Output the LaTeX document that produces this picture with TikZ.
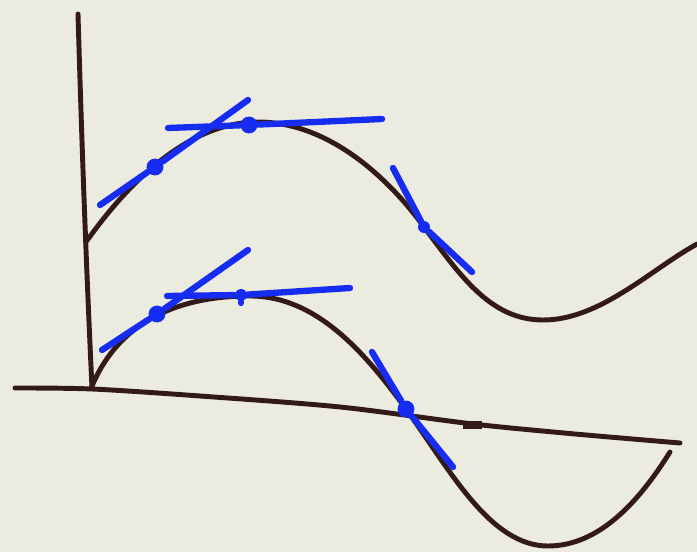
\documentclass[tikz,border=0pt]{standalone}
\usetikzlibrary{calc}

\definecolor{paper}{RGB}{236,235,224}
\definecolor{ink}{RGB}{52,26,22}
\definecolor{pen}{RGB}{22,44,240}

\begin{document}
\begin{tikzpicture}[x=0.01cm,y=-0.01cm,line cap=round,line join=round,
  curve/.style={draw=ink,line width=1.4pt},
  tangent/.style={draw=pen,line width=1.8pt},
  touch/.style={circle,fill=pen,inner sep=0pt,minimum size=#1},
  touch/.default=4.8pt]
\fill[paper] (0,0) rectangle (697,552);
\useasboundingbox (0,0) rectangle (697,552);

% axes
\coordinate (ytop) at (78,14);
\coordinate (orig) at (92,388);
\coordinate (xleft) at (15,388);
\coordinate (xright) at (680,443);
\draw[curve] (ytop) .. controls (82,150) and (86,260) .. (orig);
\draw[curve] plot[smooth] coordinates {(xleft) (92,389) (200,396) (340,407) (473,424) (575,434) (xright)};
\fill[ink] (463,421) rectangle (482,429);

% upper curve
\coordinate (ustart) at (86,242);
\coordinate (upeak) at (258,122);
\coordinate (umin) at (543,320);
\coordinate (uend) at (697,244);
\draw[curve] (ustart) .. controls (130,180) and (190,122) .. (upeak)
  .. controls (330,122) and (390,180) .. (424,227)
  .. controls (460,275) and (490,320) .. (umin)
  .. controls (600,320) and (650,270) .. (uend);

% lower curve
\coordinate (lstart) at (92,386);
\coordinate (lpeak) at (250,296);
\coordinate (lmin) at (548,546);
\coordinate (lend) at (670,452);
\draw[curve] (lstart) .. controls (120,320) and (180,296) .. (lpeak)
  .. controls (320,296) and (370,360) .. (406,409)
  .. controls (450,470) and (490,546) .. (lmin)
  .. controls (600,546) and (640,500) .. (lend);

% tangents, upper
\node[touch] (u1) at (155,167) {};
\node[touch] (u2) at (249,125) {};
\node[touch=3.4pt] (u3) at (424,227) {};
\coordinate (u1a) at (100,205);
\coordinate (u1b) at (248,100);
\coordinate (u2a) at (168,128);
\coordinate (u2b) at (382,119);
\coordinate (u3a) at (393,168);
\coordinate (u3b) at (472,272);
\draw[tangent] (u1a) -- (u1) -- (u1b);
\draw[tangent] (u2a) -- (u2) -- (u2b);
\draw[tangent] (u3a) -- (u3) -- (u3b);

% tangents, lower
\node[touch] (l1) at (157,314) {};
\node[touch=3.4pt] (l2) at (241,295) {};
\node[touch] (l3) at (406,409) {};
\coordinate (l1a) at (102,350);
\coordinate (l1b) at (248,250);
\coordinate (l2a) at (167,296);
\coordinate (l2b) at (350,288);
\coordinate (l3a) at (372,352);
\coordinate (l3b) at (453,467);
\draw[tangent] (l1a) -- (l1) -- (l1b);
\draw[tangent] (l2a) -- (l2) -- (l2b);
\draw[tangent] (l2) -- ++(0,8);
\draw[tangent] (l3a) -- (l3) -- (l3b);
\end{tikzpicture}
\end{document}
